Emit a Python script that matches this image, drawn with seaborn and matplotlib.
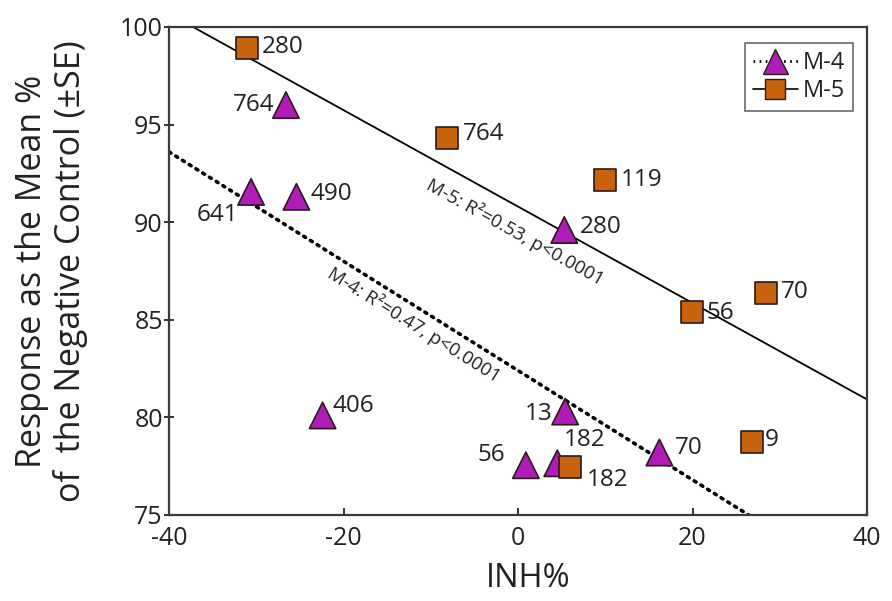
import numpy as np
import pandas as pd
import matplotlib
matplotlib.use("Agg")
import matplotlib.pyplot as plt
import seaborn as sns
from matplotlib.lines import Line2D

# data
m4_inh = [-26.6, -30.6, -25.4, 5.3, -22.4, 5.4, 0.9, 4.5, 16.2]
m4_resp = [96.0, 91.55, 91.3, 89.6, 80.1, 80.3, 77.55, 77.65, 78.2]
m4_ids = ["764", "641", "490", "280", "406", "13", "56", "182", "70"]

m5_inh = [-31.1, -8.1, 10.0, 19.9, 28.4, 26.8, 6.0]
m5_resp = [98.9, 94.3, 92.15, 85.4, 86.35, 78.75, 77.45]
m5_ids = ["280", "764", "119", "56", "70", "9", "182"]

# regression lines (intercept at INH=0, slope)
m4_fit = (82.4, -0.280)
m5_fit = (90.8, -0.247)

m4_label = "M-4: R²=0.47, p<0.0001"
m5_label = "M-5: R²=0.53, p<0.0001"

# label offsets in points (dx, dy, ha)
m4_off = [(-8, 0, "right"), (-9.5, -16.5, "right"), (10, 2, "left"),
          (11.5, 2, "left"), (7, 7, "left"), (-9, -1.5, "right"),
          (-15, 7, "right"), (19.5, 17, "center"), (11.5, 3, "left")]
m5_off = [(11, 1, "left"), (11, 3, "left"), (11, 0, "left"),
          (11, -1, "left"), (11, 1, "left"), (9, 1, "left"),
          (12, -9, "left")]

df = pd.DataFrame({
    "INH": m4_inh + m5_inh,
    "resp": m4_resp + m5_resp,
    "model": ["M-4"] * len(m4_inh) + ["M-5"] * len(m5_inh),
})

sns.set_theme(style="ticks")
plt.rcParams["font.family"] = ["Open Sans", "DejaVu Sans"]
plt.rcParams["axes.unicode_minus"] = False

purple = "#B01CB8"
orange = "#C8620C"
ink = "#222222"
edge = "#2a1a1a"

fig = plt.figure(figsize=(8.92, 6.01), dpi=100)
ax = fig.add_axes([0.1895, 0.1431, 0.7825, 0.812])

xs = np.array([-40, 40])
ax.plot(xs, m4_fit[0] + m4_fit[1] * xs, color="black", lw=2.6,
        ls=(0, (0.6, 1.6)), dash_capstyle="round", zorder=1)
ax.plot(xs, m5_fit[0] + m5_fit[1] * xs, color="black", lw=1.3, zorder=1)

sns.scatterplot(data=df, x="INH", y="resp", hue="model", style="model",
                markers={"M-4": "^", "M-5": "s"},
                palette={"M-4": purple, "M-5": orange},
                size="model", sizes={"M-4": 360, "M-5": 250},
                edgecolor=edge, linewidth=1.2, legend=False,
                ax=ax, zorder=3)

for x, y, t, (dx, dy, ha) in zip(m4_inh, m4_resp, m4_ids, m4_off):
    ax.annotate(t, (x, y), xytext=(dx, dy), textcoords="offset points",
                ha=ha, va="center", fontsize=17.5, color=ink)
for x, y, t, (dx, dy, ha) in zip(m5_inh, m5_resp, m5_ids, m5_off):
    ax.annotate(t, (x, y), xytext=(dx, dy), textcoords="offset points",
                ha=ha, va="center", fontsize=17.5, color=ink)

# fit labels sit along their lines
x5 = 1.0
ax.annotate(m5_label, (x5, m5_fit[0] + m5_fit[1] * x5), xytext=(-8, -14.5),
            textcoords="offset points", rotation=-29, rotation_mode="anchor",
            ha="center", va="center", fontsize=13.5, color=ink)
x4 = -11.0
ax.annotate(m4_label, (x4, m4_fit[0] + m4_fit[1] * x4), xytext=(-6, -10),
            textcoords="offset points", rotation=-32, rotation_mode="anchor",
            ha="center", va="center", fontsize=13.5, color=ink)

ax.set_xlim(-40, 40)
ax.set_ylim(75, 100)
ax.set_xticks([-40, -20, 0, 20, 40])
ax.set_yticks([75, 80, 85, 90, 95, 100])
ax.tick_params(axis="x", direction="in", length=5, width=1.3, labelsize=18,
               colors=ink, labelcolor=ink, pad=8)
ax.tick_params(axis="y", direction="inout", length=7, width=1.3,
               labelsize=18, colors=ink, labelcolor=ink, pad=1)
for s in ax.spines.values():
    s.set_linewidth(1.6)
    s.set_color("#3a3a3a")

ax.set_xlabel("INH%", fontsize=23.5, color=ink, va="center")
ax.xaxis.set_label_coords(0.514, -0.131)
ax.set_ylabel("Response as the Mean %\nof  the Negative Control (±SE)",
              fontsize=24.5, color=ink, va="center", linespacing=1.15)
ax.yaxis.set_label_coords(-0.168, 0.5)

handles = [
    Line2D([], [], color="black", ls=(0, (0.6, 1.6)), lw=2,
           marker="^", markersize=18, markerfacecolor=purple,
           markeredgecolor=edge, label="M-4"),
    Line2D([], [], color="black", lw=1.2,
           marker="s", markersize=15, markerfacecolor=orange,
           markeredgecolor=edge, label="M-5"),
]
leg = ax.legend(handles=handles, loc="upper right", fontsize=17,
                frameon=True, fancybox=False, handlelength=1.9,
                handletextpad=0.2, borderpad=0.35, labelspacing=0.15,
                borderaxespad=0, bbox_to_anchor=(0.98, 0.967))
leg.get_frame().set_edgecolor("#444444")
leg.get_frame().set_linewidth(1.2)
for t in leg.get_texts():
    t.set_color(ink)

fig.savefig("out.png", dpi=100)
